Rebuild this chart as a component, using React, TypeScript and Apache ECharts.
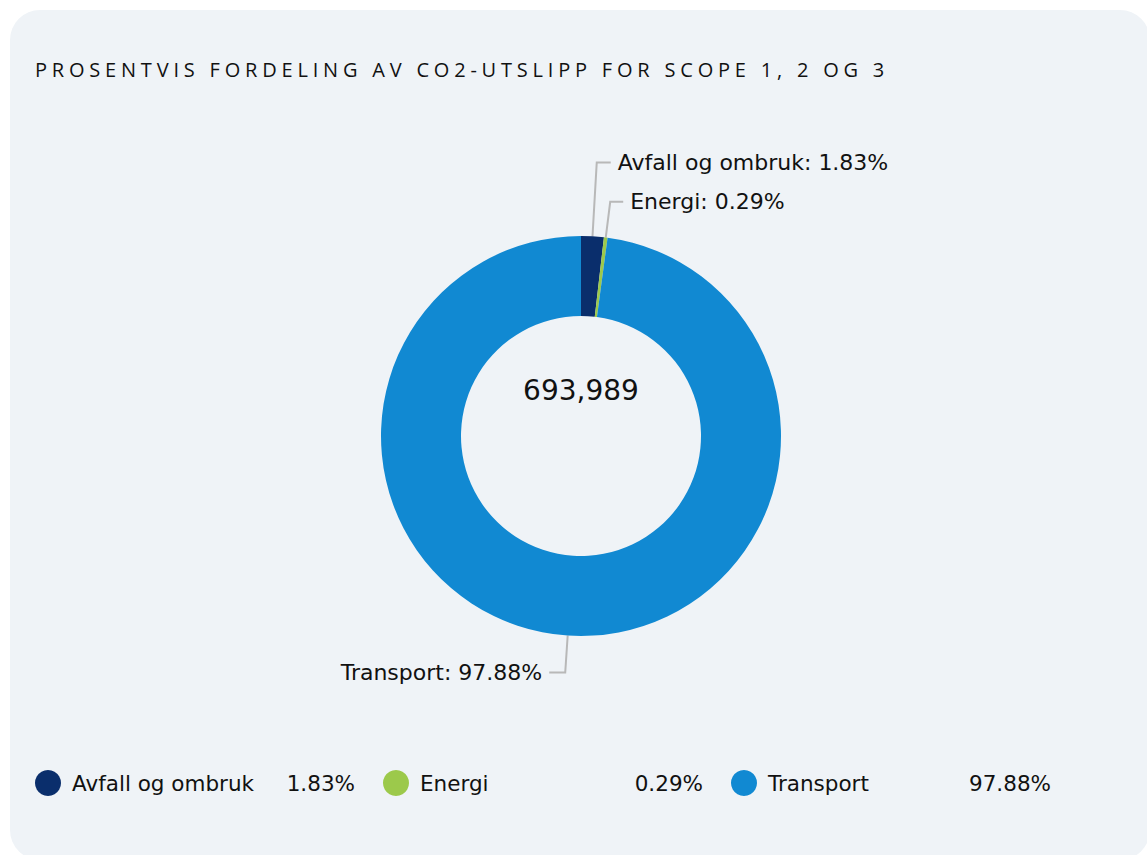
import React, { useEffect, useRef } from "react";
import * as echarts from "echarts";

const categories = ["Avfall og ombruk", "Energi", "Transport"];
const values = [12700, 2013, 679276];
const percentLabels = ["1.83%", "0.29%", "97.88%"];
const colors = ["#0a2e6c", "#9cc94b", "#1189d2"];
const totalLabel = "693,989";
const titleText = "PROSENTVIS FORDELING AV CO2-UTSLIPP FOR SCOPE 1, 2 OG 3";
const lineLengths = [
  [74, 14],
  [36, 13],
  [37, 16],
];

const FONT = "'DejaVu Sans', Verdana, sans-serif";

export default function App() {
  const ref = useRef<HTMLDivElement>(null);

  useEffect(() => {
    document.body.style.margin = "0";
    const chart = echarts.init(ref.current!, null, { renderer: "svg" });
    const data = categories.map((name, i) => ({
      name,
      value: values[i],
      itemStyle: { color: colors[i] },
      labelLine: { length: lineLengths[i][0], length2: lineLengths[i][1] },
    }));
    chart.setOption({
      animation: false,
      backgroundColor: "transparent",
      legend: {
        left: 30,
        top: 765,
        orient: "horizontal",
        icon: "circle",
        itemWidth: 26,
        itemHeight: 26,
        itemGap: 28,
        data: categories,
        selectedMode: false,
        formatter: (name: string) => {
          const i = categories.indexOf(name);
          return `{n|${name}}{v|${percentLabels[i]}}`;
        },
        textStyle: {
          fontFamily: FONT,
          fontSize: 21.5,
          color: "#111",
          padding: [0, 0, 0, 6],
          rich: {
            n: { width: 208, fontFamily: FONT, fontSize: 21.5, color: "#111" },
            v: { width: 75, align: "right", fontFamily: FONT, fontSize: 21.5, color: "#111" },
          },
        },
      },
      graphic: [
        {
          type: "text",
          x: 581,
          y: 390,
          style: {
            text: totalLabel,
            fontFamily: FONT,
            fontSize: 28,
            fill: "#111",
            align: "center",
            verticalAlign: "middle",
          },
        },
      ],
      series: [
        {
          type: "pie",
          center: [581, 436],
          radius: [120, 200],
          startAngle: 90,
          clockwise: true,
          avoidLabelOverlap: false,
          emphasis: { disabled: true },
          label: {
            show: true,
            formatter: "{b}: {d}%",
            fontFamily: FONT,
            fontSize: 22,
            color: "#111",
            distanceToLabelLine: 7,
          },
          labelLine: {
            show: true,
            smooth: false,
            lineStyle: { color: "#b8b8b8", width: 2 },
          },
          data,
        },
      ],
    });
    return () => chart.dispose();
  }, []);

  return (
    <div
      style={{
        position: "fixed",
        left: 0,
        top: 0,
        width: 1147,
        height: 855,
        overflow: "hidden",
        background: "#ffffff",
      }}
    >
      <div
        style={{
          position: "absolute",
          left: 10,
          top: 10,
          width: 1140,
          height: 850,
          borderRadius: 30,
          background: "#eff3f7",
        }}
      />
      <div
        style={{
          position: "absolute",
          left: 35,
          top: 57,
          fontFamily: "'Open Sans', sans-serif",
          fontSize: 20,
          lineHeight: "26px",
          letterSpacing: 4.8,
          color: "#111",
          whiteSpace: "nowrap",
        }}
      >
        {titleText}
      </div>
      <div
        ref={ref}
        style={{ position: "absolute", left: 0, top: 0, width: 1147, height: 855 }}
      />
    </div>
  );
}
